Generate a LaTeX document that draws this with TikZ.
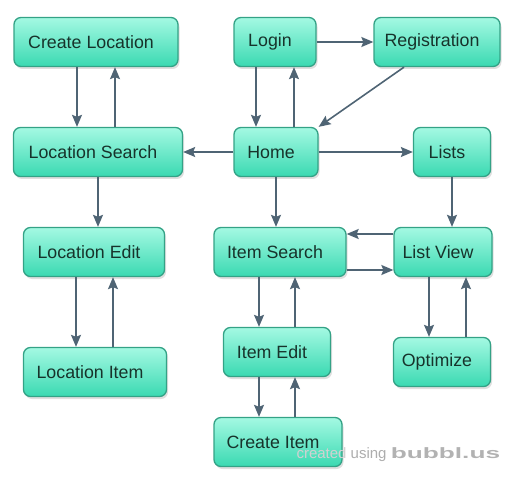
\documentclass[tikz,border=0pt]{standalone}
\usepackage{tikz}
\usepackage{fontspec}
\setmainfont{Liberation Sans}
\usetikzlibrary{arrows.meta,shadows,scopes}
\definecolor{bubtop}{HTML}{A4F9E2}
\definecolor{bubmid}{HTML}{6CEECD}
\definecolor{bubbot}{HTML}{3AD9B2}
\definecolor{bubedge}{HTML}{34A286}
\definecolor{linkcol}{HTML}{4F6474}
\definecolor{txtcol}{HTML}{17332B}
\tikzstyle{bubble} = [rectangle, rounded corners=7pt, minimum height=49pt, text centered, draw=bubedge, line width=1.3pt, top color=bubtop, middle color=bubmid, bottom color=bubbot, text=txtcol, font=\fontsize{17.8}{20}\selectfont, execute at end node=\hspace*{10pt}, drop shadow={opacity=0.25, shadow xshift=1.5pt, shadow yshift=-2.5pt}]
\tikzstyle{link} = [draw=linkcol, line width=1.6pt, -{Stealth[length=12pt,width=10pt,inset=2pt]}]

\begin{document}
\begin{tikzpicture}[x=1pt,y=-1pt]
        \useasboundingbox (0,0) rectangle (518,478);
        \node[bubble, minimum width=164pt] (CL) at (96,42) {Create Location};
        \node[bubble, minimum width=82pt] (LG) at (275,42) {Login};
        \node[bubble, minimum width=126pt] (RG) at (437,42) {Registration};
        \node[bubble, minimum width=169pt] (LS) at (98,152) {Location Search};
        \node[bubble, minimum width=84pt] (H) at (276,152) {Home};
        \node[bubble, minimum width=77pt] (L) at (452,152) {Lists};
        \node[bubble, minimum width=141pt] (LE) at (94,252) {Location Edit};
        \node[bubble, minimum width=132pt] (IS) at (280,252) {Item Search};
        \node[bubble, minimum width=98pt] (LV) at (443,252) {List View};
        \node[bubble, minimum width=107pt] (IE) at (277,352) {Item Edit};
        \node[bubble, minimum width=97pt] (O) at (442,362) {Optimize};
        \node[bubble, minimum width=143pt] (LI) at (95,372) {Location Item};
        \node[bubble, minimum width=128pt] (CI) at (278,442) {Create Item};
        \node[text=black!18, font=\fontsize{15}{18}\selectfont, anchor=west] (WM) at (293,455)
            {created \textcolor{black!32}{using} \textcolor{black!30}{\scalebox{1.75}[1]{\bfseries bubbl.us}}};
    \begin{scope}[link]
        \draw ([xshift=-19pt]CL.south) -- ([xshift=-19pt]CL.south |- LS.north);
        \draw ([xshift=19pt]CL.south |- LS.north) -- ([xshift=19pt]CL.south);
        \draw ([xshift=-19pt]LG.south) -- ([xshift=-19pt]LG.south |- H.north);
        \draw ([xshift=19pt]LG.south |- H.north) -- ([xshift=19pt]LG.south);
        \draw (LG) -- (RG);
        \draw ([xshift=-33pt]RG.south) -- (H.north east);
        \draw (H) -- (LS);
        \draw (H) -- (L);
        \draw (H.south) -- (H.south |- IS.north);
        \draw (LS.south) -- (LS.south |- LE.north);
        \draw (L.south) -- (L.south |- LV.north);
        \draw ([yshift=18pt]LV.west) -- ([yshift=18pt]LV.west -| IS.east);
        \draw ([yshift=-18pt]IS.east) -- ([yshift=-18pt]IS.east -| LV.west);
        \draw ([xshift=-18pt]LE.south) -- ([xshift=-18pt]LE.south |- LI.north);
        \draw ([xshift=19pt]LE.south |- LI.north) -- ([xshift=19pt]LE.south);
        \draw ([xshift=-18pt]IE.north |- IS.south) -- ([xshift=-18pt]IE.north);
        \draw ([xshift=18pt]IE.north) -- ([xshift=18pt]IE.north |- IS.south);
        \draw ([xshift=-18pt]IE.south) -- ([xshift=-18pt]IE.south |- CI.north);
        \draw ([xshift=18pt]IE.south |- CI.north) -- ([xshift=18pt]IE.south);
        \draw ([xshift=-14pt]LV.south) -- ([xshift=-14pt]LV.south |- O.north);
        \draw ([xshift=23pt]LV.south |- O.north) -- ([xshift=23pt]LV.south);
    \end{scope}
\end{tikzpicture}
\end{document}
